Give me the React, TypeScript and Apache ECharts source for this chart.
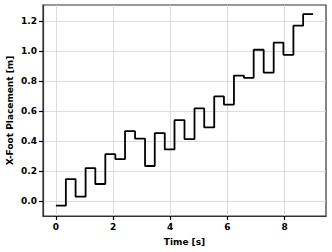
import React, { useEffect, useRef } from "react";
import * as echarts from "echarts";

const times = [0, 0.35, 0.69, 1.04, 1.38, 1.73, 2.08, 2.42, 2.77, 3.12, 3.46, 3.81, 4.15, 4.5, 4.85, 5.19, 5.54, 5.88, 6.23, 6.58, 6.92, 7.27, 7.62, 7.96, 8.31, 8.65, 9.0];
const footX = [-0.031, 0.146, 0.029, 0.219, 0.113, 0.312, 0.279, 0.465, 0.415, 0.233, 0.452, 0.343, 0.538, 0.412, 0.616, 0.49, 0.696, 0.642, 0.835, 0.82, 1.007, 0.855, 1.054, 0.973, 1.167, 1.244, 1.244];
const xTicks = [0, 2, 4, 6, 8];
const yTicks = [0, 0.2, 0.4, 0.6, 0.8, 1.0, 1.2];
const yTitle = "X-Foot Placement [m]";

const FONT = "DejaVu Sans";

export default function App() {
  const ref = useRef<HTMLDivElement>(null);
  useEffect(() => {
    if (!ref.current) return;
    const chart = echarts.init(ref.current, null, { renderer: "svg" });
    const data = times.map((t, i) => [t, footX[i]]);
    chart.setOption({
      animation: false,
      grid: {
        left: 43,
        top: 5,
        right: 6,
        bottom: 36,
        containLabel: false,
        outerBoundsMode: "none",
        show: true,
        borderColor: "#333",
        borderWidth: 1.2,
        backgroundColor: "transparent",
      },
      graphic: [
        {
          type: "text",
          x: 10,
          y: 110.5,
          rotation: Math.PI / 2,
          style: {
            text: yTitle,
            fontFamily: FONT,
            fontWeight: "bold",
            fontSize: 9,
            fill: "#000",
            align: "center",
            verticalAlign: "middle",
          },
        },
      ],
      xAxis: {
        type: "value",
        min: -0.45,
        max: 9.45,
        name: "Time [s]",
        nameLocation: "middle",
        nameGap: 21,
        nameMoveOverlap: false,
        nameTextStyle: { fontFamily: FONT, fontWeight: "bold", fontSize: 9, color: "#000" },
        axisLine: { show: true, onZero: false, lineStyle: { color: "#333", width: 1.2 } },
        axisTick: { show: true, customValues: xTicks, length: 4, lineStyle: { color: "#000", width: 1.2 } },
        axisLabel: {
          customValues: xTicks,
          fontFamily: FONT,
          fontWeight: "bold",
          fontSize: 9,
          color: "#000",
          margin: 6,
          formatter: (v: number) => String(v),
        },
        splitLine: { show: true, lineStyle: { color: "#d4d4d4", width: 0.8 } },
      },
      yAxis: {
        type: "value",
        min: -0.1,
        max: 1.305,
        axisLine: { show: true, onZero: false, lineStyle: { color: "#333", width: 1.2 } },
        axisTick: { show: true, customValues: yTicks, length: 4, lineStyle: { color: "#000", width: 1.2 } },
        axisLabel: {
          customValues: yTicks,
          fontFamily: FONT,
          fontWeight: "bold",
          fontSize: 9,
          color: "#000",
          margin: 6,
          formatter: (v: number) => v.toFixed(1),
        },
        splitLine: { show: true, lineStyle: { color: "#d4d4d4", width: 0.8 } },
      },
      series: [
        {
          type: "line",
          step: "end",
          data,
          showSymbol: false,
          symbol: "none",
          lineStyle: { color: "#000", width: 1.8 },
        },
      ],
    });
    return () => chart.dispose();
  }, []);
  return <div ref={ref} style={{ width: 332, height: 252, position: "absolute", left: 0, top: 0 }} />;
}
